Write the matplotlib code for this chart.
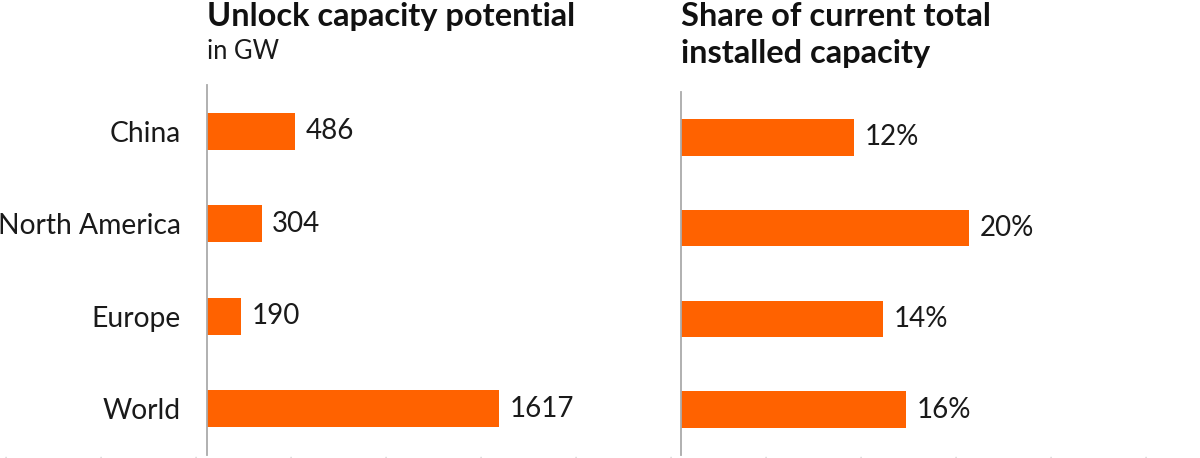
import matplotlib
matplotlib.use("Agg")
import matplotlib.pyplot as plt
from matplotlib.lines import Line2D

categories = ["China", "North America", "Europe", "World"]
capacity_gw = [486, 304, 190, 1617]
share_pct = [12.0, 20.0, 14.0, 15.6]   # bar lengths as drawn; labels are rounded
share_labels = ["12%", "20%", "14%", "16%"]

ORANGE = "#FF6200"
W, H = 1200, 458
plt.rcParams['font.family'] = ['Lato', 'DejaVu Sans']

fig = plt.figure(figsize=(W / 100, H / 100), dpi=100)

def px_axes(x0, y_top, x1, y_bot):
    return fig.add_axes([x0 / W, (H - y_bot) / H, (x1 - x0) / W, (y_bot - y_top) / H])

def style(ax):
    for s in ["top", "right", "bottom"]:
        ax.spines[s].set_visible(False)
    ax.spines["left"].set_color("#aaaaaa")
    ax.spines["left"].set_linewidth(1.3)
    ax.set_xticks([])
    ax.tick_params(axis="y", length=0)
    ax.set_ylim(3.5, -0.5)

ypos = list(range(len(categories)))

ax1 = px_axes(207, 85, 600, 455)
ax1.barh(ypos, capacity_gw, height=0.4, color=ORANGE)
style(ax1)
ax1.set_xlim(0, 393 / 0.1806)
ax1.set_yticks(ypos)
ax1.set_yticklabels(categories, fontsize=20.3, color="#1a1a1a")
ax1.tick_params(axis="y", pad=19)
for y, v in zip(ypos, capacity_gw):
    ax1.annotate(f"{v}", (v, y), xytext=(7.5, 0), textcoords="offset points",
                 va="center", ha="left", fontsize=20, color="#1a1a1a")

ax2 = px_axes(681, 92, 1200, 455)
ax2.barh(ypos, share_pct, height=0.4, color=ORANGE)
style(ax2)
ax2.set_xlim(0, 519 / 14.415)
ax2.set_yticks([])
for y, v, lab in zip(ypos, share_pct, share_labels):
    ax2.annotate(lab, (v, y), xytext=(7.5, 0), textcoords="offset points",
                 va="center", ha="left", fontsize=20, color="#1a1a1a")

fig.text(207 / W, 1 - 2 / H, "Unlock capacity potential", fontsize=23.4, fontweight="bold",
         ha="left", va="top", color="#111111")
fig.text(207 / W, 1 - 39 / H, "in GW", fontsize=18.4, ha="left", va="top", color="#1a1a1a")
fig.text(681 / W, 1 - 2 / H, "Share of current total\ninstalled capacity", fontsize=23.4,
         fontweight="bold", ha="left", va="top", color="#111111", linespacing=1.35)

fig.add_artist(Line2D([5 / W, 1], [1.5 / H, 1.5 / H], transform=fig.transFigure, color="#cccccc",
                      linewidth=1, dashes=(0.8, 67.6)))

fig.savefig("out.png", dpi=100)
